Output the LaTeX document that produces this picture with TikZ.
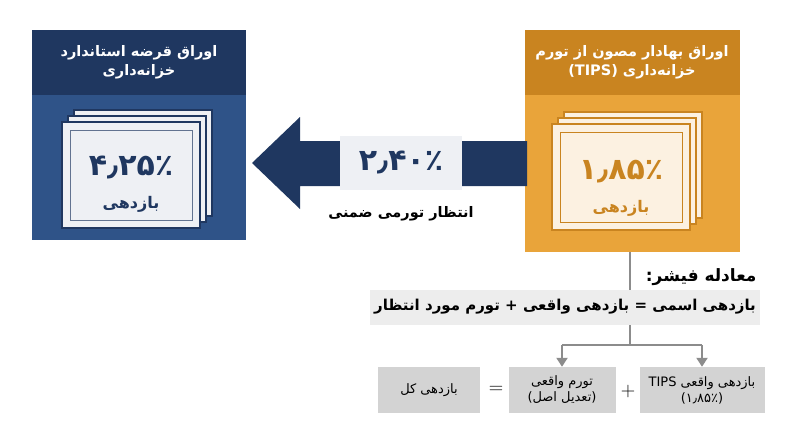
\documentclass[tikz,border=0pt]{standalone}
\usepackage{fontspec}
\newfontfamily\farsi[Script=Arabic]{DejaVu Sans}
\TeXXeTstate=1
\newcommand{\fa}[1]{{\farsi\beginR #1\endR}}
\newcommand{\la}[1]{\beginL #1\endL}
\usetikzlibrary{arrows.meta}
\definecolor{navyd}{HTML}{1F3760}
\definecolor{navyb}{HTML}{2F5388}
\definecolor{orad}{HTML}{C98420}
\definecolor{orab}{HTML}{E9A43A}
\definecolor{paper}{HTML}{EEF0F4}
\definecolor{grayb}{HTML}{D3D3D3}
\definecolor{grayl}{HTML}{EDEDED}
\definecolor{linec}{HTML}{8C8C8C}

\begin{document}
\begin{tikzpicture}[x=1pt,y=-1pt,
    cert/.style={fill=paper,draw=#1,line width=1.2pt},
    lbl/.style={font=\bfseries\fontsize{14.5}{19}\selectfont,text=white,align=center},
    gbox/.style={fill=grayb,minimum height=46pt,align=center,font=\fontsize{13}{16}\selectfont},
    link/.style={draw=linec,line width=2pt},
    tip/.style={-{Triangle[width=11pt,length=9pt]}}]
\useasboundingbox (0,0) rectangle (800,447);
% left panel
\fill[navyd] (32,30) rectangle (246,95);
\fill[navyb] (32,95) rectangle (246,240);
\node[lbl] (lhead) at (139,62) {\fa{اوراق قرضه استاندارد}\\\fa{خزانه‌داری}};
\foreach \d in {0,6,12}
  \draw[cert=navyd] (74-\d,110+\d) rectangle (212-\d,216+\d);
\draw[navyd!70,line width=.8pt] (70,130) rectangle (192,220);
\node[font=\bfseries\fontsize{30}{34}\selectfont,text=navyd] (lval) at (131,168) {\fa{۴٫۲۵٪}};
\node[font=\bfseries\fontsize{16}{18}\selectfont,text=navyd] (lsub) at (131,204) {\fa{بازدهی}};
% right panel
\fill[orad] (525,30) rectangle (740,95);
\fill[orab] (525,95) rectangle (740,252);
\node[lbl] (rhead) at (632,62) {\fa{اوراق بهادار مصون از تورم}\\\fa{خزانه‌داری \la{(TIPS)}}};
\foreach \d in {0,6,12}
  \draw[cert=orad,fill=white!85!orab] (564-\d,112+\d) rectangle (702-\d,218+\d);
\draw[orad,line width=.8pt] (560,132) rectangle (682,222);
\node[font=\bfseries\fontsize{30}{34}\selectfont,text=orad] (rval) at (621,172) {\fa{۱٫۸۵٪}};
\node[font=\bfseries\fontsize{16}{18}\selectfont,text=orad] (rsub) at (621,208) {\fa{بازدهی}};
% arrow
\fill[navyd] (527,141) -- (300,141) -- (300,117) -- (252,163) -- (300,209) -- (300,186) -- (527,186) -- cycle;
\node[fill=paper,minimum width=122pt,minimum height=54pt,font=\bfseries\fontsize{30}{34}\selectfont,text=navyd] (mid) at (401,163) {\fa{۲٫۴۰٪}};
\node[font=\bfseries\fontsize{14.5}{17}\selectfont] (midl) at (401,214) {\fa{انتظار تورمی ضمنی}};
% fisher
\coordinate (top) at (630,252);
\coordinate (jn) at (630,345);
\draw[link] (top) -- (jn);
\node[anchor=east,font=\bfseries\fontsize{17}{20}\selectfont] (ftitle) at (760,277) {\fa{معادله فیشر:}};
\node[fill=grayl,minimum width=390pt,minimum height=35pt,font=\bfseries\fontsize{15}{18}\selectfont] (form) at (565,307) {\fa{بازدهی اسمی = بازدهی واقعی + تورم مورد انتظار}};
\node[gbox,minimum width=102pt] (b1) at (429,390) {\fa{بازدهی کل}};
\node[gbox,minimum width=107pt] (b2) at (562,390) {\fa{تورم واقعی}\\\fa{(تعدیل اصل)}};
\node[gbox,minimum width=125pt] (b3) at (702,390) {\fa{بازدهی واقعی \la{TIPS}}\\\fa{(۱٫۸۵٪)}};
\node[font=\fontsize{20}{22}\selectfont] (eq) at (496,390) {=};
\node[font=\fontsize{20}{22}\selectfont] (pl) at (628,392) {+};
\draw[link] (jn) -- (b2.north |- jn) edge[link,tip] (b2.north);
\draw[link] (jn) -- (b3.north |- jn) edge[link,tip] (b3.north);
\end{tikzpicture}
\end{document}
